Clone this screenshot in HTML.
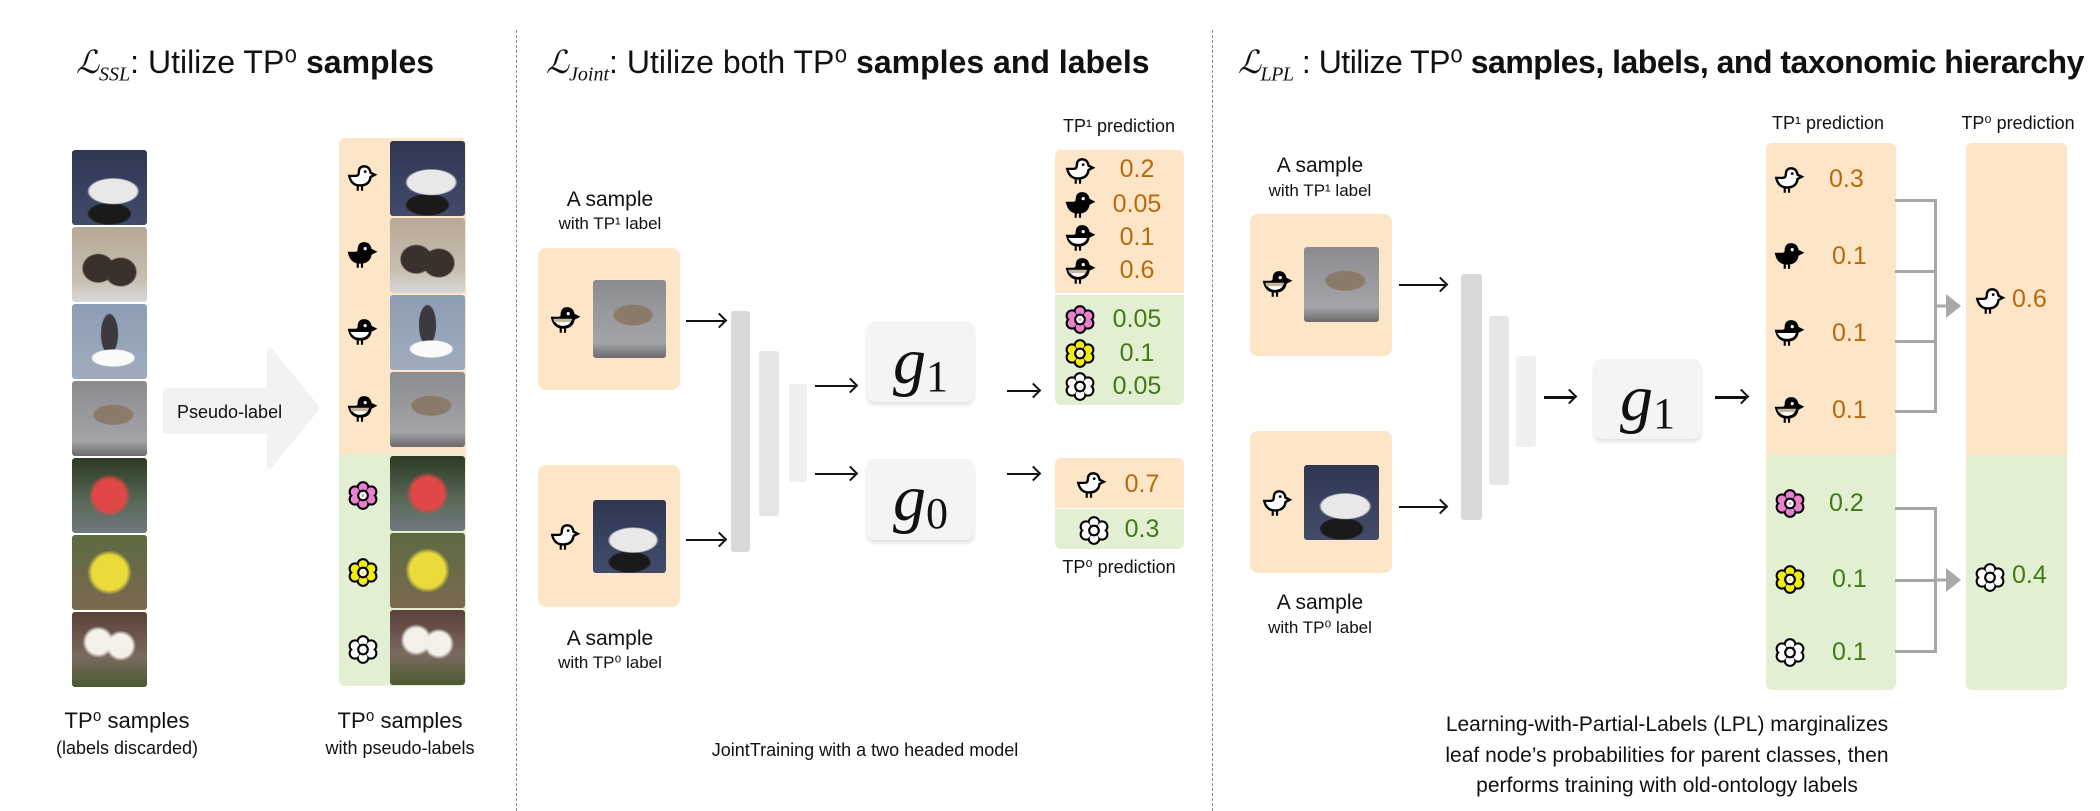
<!DOCTYPE html>
<html><head><meta charset="utf-8">
<style>
*{margin:0;padding:0;box-sizing:border-box}
body{width:2100px;height:811px;background:#fff;position:relative;overflow:hidden;font-family:"Liberation Sans","DejaVu Sans",sans-serif;color:#111}
.a{position:absolute}
.t{position:absolute;white-space:nowrap;font-size:32px;line-height:36px}
.c{position:absolute;white-space:nowrap;text-align:center;transform:translateX(-50%)}
.dash{position:absolute;top:30px;bottom:0;width:0;border-left:1.5px dashed #888}
.or{background:#fde5c8}.gr{background:#e2efd3}
.ph{position:absolute;border-radius:3px}
.p1{background:radial-gradient(ellipse 35% 18% at 55% 55%,#e8e8e8 90%,transparent 100%),radial-gradient(ellipse 30% 15% at 50% 85%,#1a1a1a 90%,transparent 100%),linear-gradient(#2e3652,#424c6a)}
.p2{background:radial-gradient(ellipse 22% 20% at 35% 55%,#3a302c 90%,transparent 100%),radial-gradient(ellipse 22% 20% at 65% 60%,#3a302c 90%,transparent 100%),linear-gradient(#b7a996,#c8beb0 70%,#d8d8d8)}
.p3{background:radial-gradient(ellipse 30% 12% at 55% 72%,#fafafa 90%,transparent 100%),radial-gradient(ellipse 12% 28% at 50% 40%,#3a3a40 90%,transparent 100%),linear-gradient(#8d9db3,#a0acbd)}
.p4{background:radial-gradient(ellipse 28% 14% at 55% 45%,#8a7a6a 90%,transparent 100%),linear-gradient(#8c8c90,#a4a4a8 80%,#6a6a6c)}
.p5{background:radial-gradient(circle at 50% 50%,#e04848 30%,transparent 40%),linear-gradient(#2c3a22,#5a6a58 60%,#707880)}
.p6{background:radial-gradient(circle at 50% 50%,#eada3a 33%,transparent 42%),linear-gradient(#5c6a40,#7a6a50)}
.p7{background:radial-gradient(circle at 35% 40%,#f4f0ea 18%,transparent 24%),radial-gradient(circle at 65% 45%,#f4f0ea 18%,transparent 24%),linear-gradient(#5a4038,#7a6a60 60%,#4a5a30)}
.bar{position:absolute;border-radius:3px}
.gbox{position:absolute;background:#f4f4f4;border-radius:8px;box-shadow:0 3px 4px rgba(0,0,0,.12);font-family:"Liberation Serif",serif;font-style:italic;font-size:66px;line-height:80px;text-align:center}
.gbox sub{font-style:normal;font-size:44px;vertical-align:-8px}
.v{position:absolute;font-size:25px;line-height:30px;white-space:nowrap}
.vo{color:#b9690c}.vg{color:#427a14}
.ic{position:absolute;width:32px;height:30px}
.arr{position:absolute;height:2px;background:#111}
.arr:after{content:"";position:absolute;right:-1px;top:-5px;width:9px;height:9px;border-top:2px solid #111;border-right:2px solid #111;transform:rotate(45deg)}
.gl{position:absolute;background:#a8a8a8}
.L{font-family:'Liberation Serif',serif;font-style:italic}
.L sub{font-size:20px}
</style></head><body>
<svg width="0" height="0" style="position:absolute">
<defs>
<symbol id="bw" viewBox="0 0 30 28"><path d="M3 12 Q5 21 13 21 Q22 21 23 13 L27 11 L23 9 Q22 3 17 3 Q12 3 12 9 Q12 12 9 12 Q5 12 3 12Z" fill="#fff" stroke="#000" stroke-width="2.2"/><circle cx="18" cy="8" r="1.3"/><path d="M11 21v5M15 21v5" stroke="#000" stroke-width="2"/></symbol>
<symbol id="bb" viewBox="0 0 30 28"><path d="M3 12 Q5 21 13 21 Q22 21 23 13 L27 11 L23 9 Q22 3 17 3 Q12 3 12 9 Q12 12 9 12 Q5 12 3 12Z" fill="#000" stroke="#000" stroke-width="2.2"/><circle cx="18" cy="8" r="1.5" fill="#fff"/><path d="M11 21v5M15 21v5" stroke="#000" stroke-width="2"/></symbol>
<symbol id="bh" viewBox="0 0 30 28"><path d="M3 12 Q5 21 13 21 Q22 21 23 13 L27 11 L23 9 Q22 3 17 3 Q12 3 12 9 Q12 12 9 12 Q5 12 3 12Z" fill="#000" stroke="#000" stroke-width="2.2"/><path d="M4 14 Q7 19.5 13 19.5 Q20 19.5 21.5 14Z" fill="#fff"/><circle cx="18" cy="8" r="1.5" fill="#fff"/><path d="M11 21v5M15 21v5" stroke="#000" stroke-width="2"/></symbol>
<symbol id="bt" viewBox="0 0 30 28"><path d="M3 12 Q5 21 13 21 Q22 21 23 13 L27 11 L23 9 Q22 3 17 3 Q12 3 12 9 Q12 12 9 12 Q5 12 3 12Z" fill="#000" stroke="#000" stroke-width="2.2"/><path d="M4 13 Q7 19.5 13 19.5 Q20 19.5 21.5 13Z" fill="#fff"/><path d="M4 13 L21.5 13 Q21 15.5 20 16 L5 16Z" fill="#c8b89a"/><circle cx="18" cy="8" r="1.5" fill="#fff"/><path d="M11 21v5M15 21v5" stroke="#000" stroke-width="2"/></symbol>
<symbol id="f" viewBox="0 0 30 28"><g stroke="#000" stroke-width="2"><circle cx="15" cy="7" r="5"/><circle cx="22.5" cy="11" r="5"/><circle cx="22.5" cy="18" r="5"/><circle cx="15" cy="22" r="5"/><circle cx="7.5" cy="18" r="5"/><circle cx="7.5" cy="11" r="5"/></g><g><circle cx="15" cy="7" r="4"/><circle cx="22.5" cy="11" r="4"/><circle cx="22.5" cy="18" r="4"/><circle cx="15" cy="22" r="4"/><circle cx="7.5" cy="18" r="4"/><circle cx="7.5" cy="11" r="4"/></g><circle cx="15" cy="14.5" r="4.5" fill="#fff" stroke="#000" stroke-width="2"/><circle cx="15" cy="14.5" r="1.3"/></symbol>
</defs></svg>

<!-- titles -->
<div class="t" style="left:76px;top:44px"><span class="L">ℒ<sub>SSL</sub></span>: Utilize TP⁰ <b>samples</b></div>
<div class="t" style="left:546px;top:44px"><span class="L">ℒ<sub>Joint</sub></span>: Utilize both TP⁰ <b>samples and labels</b></div>
<div class="t" style="left:1238px;top:44px;letter-spacing:-0.5px"><span class="L">ℒ<sub>LPL</sub></span> : Utilize TP⁰ <b>samples, labels, and taxonomic hierarchy</b></div>
<div class="dash" style="left:516px"></div>
<div class="dash" style="left:1212px"></div>

<!-- panel 1 -->
<div class="ph p1" style="left:72px;top:150px;width:75px;height:75px"></div>
<div class="ph p2" style="left:72px;top:227px;width:75px;height:75px"></div>
<div class="ph p3" style="left:72px;top:304px;width:75px;height:75px"></div>
<div class="ph p4" style="left:72px;top:381px;width:75px;height:75px"></div>
<div class="ph p5" style="left:72px;top:458px;width:75px;height:75px"></div>
<div class="ph p6" style="left:72px;top:535px;width:75px;height:75px"></div>
<div class="ph p7" style="left:72px;top:612px;width:75px;height:75px"></div>
<svg class="a" style="left:163px;top:346px" width="160" height="126"><path d="M4 42 Q0 42 0 46 L0 84 Q0 88 4 88 L104 88 L104 120 Q104 126 110 120 L155 65 Q158 62 155 59 L110 4 Q104 -2 104 6 L104 42Z" fill="#f2f2f2"/></svg>
<div class="a" style="left:177px;top:402px;font-size:18px">Pseudo-label</div>
<div class="a or" style="left:339px;top:138px;width:127px;height:316px;border-radius:6px 6px 0 0"></div>
<div class="a gr" style="left:339px;top:454px;width:127px;height:232px;border-radius:0 0 6px 6px"></div>
<div class="ph p1" style="left:390px;top:141px;width:75px;height:75px"></div>
<div class="ph p2" style="left:390px;top:218px;width:75px;height:75px"></div>
<div class="ph p3" style="left:390px;top:295px;width:75px;height:75px"></div>
<div class="ph p4" style="left:390px;top:372px;width:75px;height:75px"></div>
<div class="ph p5" style="left:390px;top:456px;width:75px;height:75px"></div>
<div class="ph p6" style="left:390px;top:533px;width:75px;height:75px"></div>
<div class="ph p7" style="left:390px;top:610px;width:75px;height:75px"></div>
<svg class="ic" style="left:346px;top:163px"><use href="#bw"/></svg>
<svg class="ic" style="left:346px;top:240px"><use href="#bb"/></svg>
<svg class="ic" style="left:346px;top:317px"><use href="#bh"/></svg>
<svg class="ic" style="left:346px;top:394px"><use href="#bt"/></svg>
<svg class="ic" style="left:347px;top:480px" fill="#e880d0"><use href="#f"/></svg>
<svg class="ic" style="left:347px;top:557px" fill="#f2ec10"><use href="#f"/></svg>
<svg class="ic" style="left:347px;top:634px" fill="#fff"><use href="#f"/></svg>
<div class="c" style="left:127px;top:708px;font-size:22px">TP⁰ samples</div>
<div class="c" style="left:127px;top:738px;font-size:18px">(labels discarded)</div>
<div class="c" style="left:400px;top:708px;font-size:22px">TP⁰ samples</div>
<div class="c" style="left:400px;top:738px;font-size:18px">with pseudo-labels</div>

<!-- panel 2 -->
<div class="c" style="left:610px;top:188px;font-size:21px">A sample</div>
<div class="c" style="left:610px;top:214px;font-size:17px">with TP¹ label</div>
<div class="a or" style="left:538px;top:248px;width:142px;height:142px;border-radius:8px"></div>
<div class="ph p4" style="left:593px;top:280px;width:73px;height:78px"></div>
<svg class="ic" style="left:549px;top:305px"><use href="#bt"/></svg>
<div class="a or" style="left:538px;top:465px;width:142px;height:142px;border-radius:8px"></div>
<div class="ph p1" style="left:593px;top:500px;width:73px;height:73px"></div>
<svg class="ic" style="left:549px;top:522px"><use href="#bw"/></svg>
<div class="c" style="left:610px;top:627px;font-size:21px">A sample</div>
<div class="c" style="left:610px;top:653px;font-size:17px">with TP⁰ label</div>
<div class="arr" style="left:686px;top:320px;width:38px"></div>
<div class="arr" style="left:686px;top:539px;width:38px"></div>
<div class="bar" style="left:731px;top:311px;width:19px;height:241px;background:#d9d9d9"></div>
<div class="bar" style="left:759px;top:351px;width:20px;height:165px;background:#e6e6e6"></div>
<div class="bar" style="left:789px;top:384px;width:18px;height:98px;background:#efefef"></div>
<div class="arr" style="left:815px;top:385px;width:40px"></div>
<div class="arr" style="left:815px;top:473px;width:40px"></div>
<div class="gbox" style="left:867px;top:322px;width:107px;height:80px">g<sub>1</sub></div>
<div class="gbox" style="left:867px;top:459px;width:107px;height:81px">g<sub>0</sub></div>
<div class="arr" style="left:1007px;top:390px;width:31px"></div>
<div class="arr" style="left:1007px;top:473px;width:31px"></div>
<div class="c" style="left:1119px;top:116px;font-size:18px">TP¹ prediction</div>
<div class="a or" style="left:1055px;top:150px;width:129px;height:143px;border-radius:6px 6px 0 0"></div>
<div class="a gr" style="left:1055px;top:295px;width:129px;height:110px;border-radius:0 0 6px 6px"></div>
<svg class="ic" style="left:1064px;top:156px"><use href="#bw"/></svg>
<svg class="ic" style="left:1064px;top:190px"><use href="#bb"/></svg>
<svg class="ic" style="left:1064px;top:223px"><use href="#bh"/></svg>
<svg class="ic" style="left:1064px;top:256px"><use href="#bt"/></svg>
<svg class="ic" style="left:1064px;top:304px" fill="#e880d0"><use href="#f"/></svg>
<svg class="ic" style="left:1064px;top:338px" fill="#f2ec10"><use href="#f"/></svg>
<svg class="ic" style="left:1064px;top:371px" fill="#fff"><use href="#f"/></svg>
<div class="c v vo" style="left:1137px;top:154px">0.2</div>
<div class="c v vo" style="left:1137px;top:189px">0.05</div>
<div class="c v vo" style="left:1137px;top:222px">0.1</div>
<div class="c v vo" style="left:1137px;top:255px">0.6</div>
<div class="c v vg" style="left:1137px;top:304px">0.05</div>
<div class="c v vg" style="left:1137px;top:338px">0.1</div>
<div class="c v vg" style="left:1137px;top:371px">0.05</div>
<div class="a or" style="left:1055px;top:458px;width:129px;height:50px;border-radius:6px 6px 0 0"></div>
<div class="a gr" style="left:1055px;top:509px;width:129px;height:40px;border-radius:0 0 6px 6px"></div>
<svg class="ic" style="left:1075px;top:470px"><use href="#bw"/></svg>
<svg class="ic" style="left:1078px;top:515px" fill="#fff"><use href="#f"/></svg>
<div class="c v vo" style="left:1142px;top:469px">0.7</div>
<div class="c v vg" style="left:1142px;top:514px">0.3</div>
<div class="c" style="left:1119px;top:557px;font-size:18px">TP⁰ prediction</div>
<div class="c" style="left:865px;top:740px;font-size:18px">JointTraining with a two headed model</div>

<!-- panel 3 -->
<div class="c" style="left:1320px;top:154px;font-size:21px">A sample</div>
<div class="c" style="left:1320px;top:181px;font-size:17px">with TP¹ label</div>
<div class="a or" style="left:1250px;top:214px;width:142px;height:142px;border-radius:8px"></div>
<div class="ph p4" style="left:1304px;top:247px;width:75px;height:75px"></div>
<svg class="ic" style="left:1261px;top:269px"><use href="#bt"/></svg>
<div class="a or" style="left:1250px;top:431px;width:142px;height:142px;border-radius:8px"></div>
<div class="ph p1" style="left:1304px;top:465px;width:75px;height:75px"></div>
<svg class="ic" style="left:1261px;top:488px"><use href="#bw"/></svg>
<div class="c" style="left:1320px;top:591px;font-size:21px">A sample</div>
<div class="c" style="left:1320px;top:618px;font-size:17px">with TP⁰ label</div>
<div class="arr" style="left:1399px;top:284px;width:46px"></div>
<div class="arr" style="left:1399px;top:506px;width:46px"></div>
<div class="bar" style="left:1461px;top:274px;width:21px;height:246px;background:#d9d9d9"></div>
<div class="bar" style="left:1489px;top:316px;width:20px;height:169px;background:#e6e6e6"></div>
<div class="bar" style="left:1516px;top:356px;width:20px;height:91px;background:#efefef"></div>
<div class="arr" style="left:1544px;top:396px;width:30px;height:3px"></div>
<div class="gbox" style="left:1594px;top:359px;width:107px;height:80px">g<sub>1</sub></div>
<div class="arr" style="left:1715px;top:396px;width:31px;height:3px"></div>
<div class="c" style="left:1828px;top:113px;font-size:18px">TP¹ prediction</div>
<div class="c" style="left:2018px;top:113px;font-size:18px">TP⁰ prediction</div>
<div class="a or" style="left:1766px;top:143px;width:130px;height:312px;border-radius:6px 6px 0 0"></div>
<div class="a gr" style="left:1766px;top:455px;width:130px;height:235px;border-radius:0 0 6px 6px"></div>
<div class="a or" style="left:1966px;top:143px;width:101px;height:312px;border-radius:6px 6px 0 0"></div>
<div class="a gr" style="left:1966px;top:455px;width:101px;height:235px;border-radius:0 0 6px 6px"></div>
<svg class="ic" style="left:1773px;top:165px"><use href="#bw"/></svg>
<svg class="ic" style="left:1773px;top:241px"><use href="#bb"/></svg>
<svg class="ic" style="left:1773px;top:318px"><use href="#bh"/></svg>
<svg class="ic" style="left:1773px;top:395px"><use href="#bt"/></svg>
<svg class="ic" style="left:1774px;top:488px" fill="#e880d0"><use href="#f"/></svg>
<svg class="ic" style="left:1774px;top:564px" fill="#f2ec10"><use href="#f"/></svg>
<svg class="ic" style="left:1774px;top:637px" fill="#fff"><use href="#f"/></svg>
<div class="a v vo" style="left:1829px;top:164px">0.3</div>
<div class="a v vo" style="left:1832px;top:241px">0.1</div>
<div class="a v vo" style="left:1832px;top:318px">0.1</div>
<div class="a v vo" style="left:1832px;top:395px">0.1</div>
<div class="a v vg" style="left:1829px;top:488px">0.2</div>
<div class="a v vg" style="left:1832px;top:564px">0.1</div>
<div class="a v vg" style="left:1832px;top:637px">0.1</div>
<!-- brackets -->
<div class="gl" style="left:1895px;top:199px;width:41px;height:3px"></div>
<div class="gl" style="left:1895px;top:270px;width:41px;height:3px"></div>
<div class="gl" style="left:1895px;top:340px;width:41px;height:3px"></div>
<div class="gl" style="left:1895px;top:410px;width:41px;height:3px"></div>
<div class="gl" style="left:1934px;top:199px;width:3px;height:214px"></div>
<svg class="a" style="left:1936px;top:292px" width="26" height="28"><path d="M0 12.5h10v3H0z M10 2 L25 14 L10 26Z" fill="#a8a8a8"/></svg>
<div class="gl" style="left:1895px;top:507px;width:41px;height:3px"></div>
<div class="gl" style="left:1895px;top:579px;width:41px;height:3px"></div>
<div class="gl" style="left:1895px;top:650px;width:41px;height:3px"></div>
<div class="gl" style="left:1934px;top:507px;width:3px;height:146px"></div>
<svg class="a" style="left:1936px;top:566px" width="26" height="28"><path d="M10 2 L25 14 L10 26Z" fill="#a8a8a8"/><path d="M0 12.5h10v3H0z" fill="#a8a8a8"/></svg>
<svg class="ic" style="left:1974px;top:286px"><use href="#bw"/></svg>
<div class="a v vo" style="left:2012px;top:284px">0.6</div>
<svg class="ic" style="left:1974px;top:562px" fill="#fff"><use href="#f"/></svg>
<div class="a v vg" style="left:2012px;top:560px">0.4</div>
<div class="c" style="left:1667px;top:710px;font-size:21px;line-height:30.5px">Learning-with-Partial-Labels (LPL) marginalizes<br>leaf node’s probabilities for parent classes, then<br>performs training with old-ontology labels</div>
</body></html>
